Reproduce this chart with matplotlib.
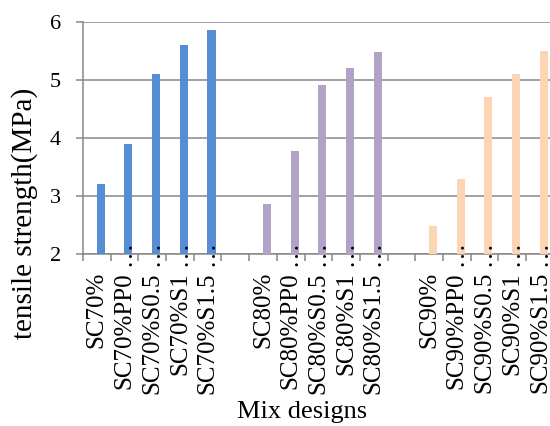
from matplotlib import pyplot as plt
import numpy as np

plt.rcParams['font.family'] = ['Liberation Serif', 'DejaVu Serif']

# categories (empty strings are the gaps between the groups)
labels = ['SC70%', 'SC70%PP0', 'SC70%S0.5', 'SC70%S1', 'SC70%S1.5', '',
          'SC80%', 'SC80%PP0', 'SC80%S0.5', 'SC80%S1', 'SC80%S1.5', '',
          'SC90%', 'SC90%PP0', 'SC90%S0.5', 'SC90%S1', 'SC90%S1.5']
cut = [False, True, True, True, True, False,
       False, True, True, True, True, False,
       False, True, True, True, True]

sc70 = [3.21, 3.90, 5.10, 5.60, 5.87]
sc80 = [2.86, 3.78, 4.91, 5.21, 5.48]
sc90 = [2.48, 3.29, 4.71, 5.10, 5.50]

colors = ['#558ed5', '#b3a2c7', '#fcd5b5']
grey = '#878787'

fig = plt.figure(figsize=(5.5, 4.26), dpi=100)
ax = fig.add_axes([0.1509, 0.4038, 0.856, 0.5446])

n = len(labels)
for g, (vals, c) in enumerate(zip([sc70, sc80, sc90], colors)):
    xs = np.arange(5) + g * 6 + 0.5 + 0.14
    ax.bar(xs, np.array(vals) - 2, bottom=2, width=0.29, color=c, zorder=3)

ax.set_xlim(0, n)
ax.set_ylim(2, 6)
ax.set_yticks([2, 3, 4, 5, 6])
ax.tick_params(axis='y', labelsize=16, length=5, width=1.1, color=grey, pad=11)
ax.yaxis.grid(True, color=grey, linewidth=1.1, zorder=0)

ax.set_xticks(np.arange(n + 1))
ax.set_xticklabels([])
ax.set_xticks(np.arange(n) + 0.5, minor=True)
ax.set_xticklabels(labels, minor=True, rotation=90, fontsize=18)
ax.tick_params(axis='x', which='major', length=5, width=1.1, color=grey, direction='out')
ax.tick_params(axis='x', which='minor', length=0, pad=13)

# Excel-style "..." of the truncated labels
for i, lab in enumerate(labels):
    if cut[i]:
        ax.annotate('…', xy=(i + 0.5, 0), xycoords=('data', 'axes fraction'),
                    xytext=(0, -9), textcoords='offset points', rotation=90,
                    rotation_mode='anchor', ha='left', va='center', fontsize=18)

for s in ['top', 'right']:
    ax.spines[s].set_visible(False)
for s in ['left', 'bottom']:
    ax.spines[s].set_color(grey)
    ax.spines[s].set_linewidth(1.1)

fig.text(0.044, 0.50, 'tensile strength(MPa)', rotation=90, ha='center', va='center', fontsize=21)
fig.text(0.549, 0.033, 'Mix designs', ha='center', va='center', fontsize=19)

plt.savefig('out.png', dpi=100)
